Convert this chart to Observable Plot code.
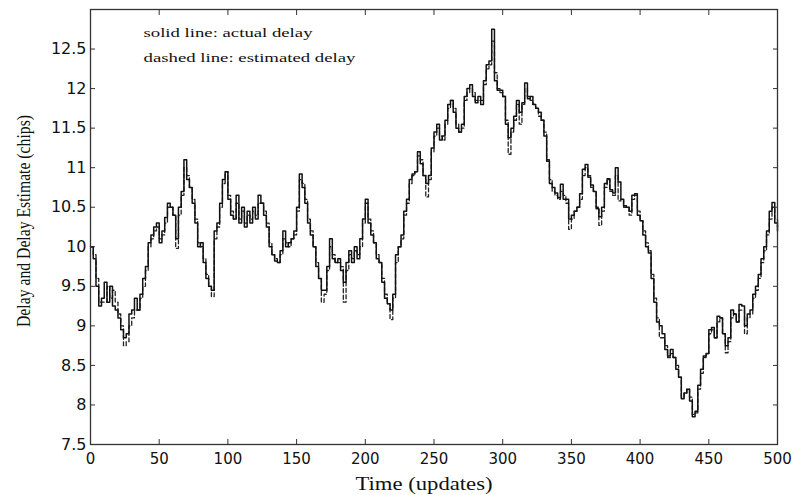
<!DOCTYPE html>
<html>
<head>
<meta charset="utf-8">
<script src="https://cdn.jsdelivr.net/npm/d3@7"></script>
<script src="https://cdn.jsdelivr.net/npm/@observablehq/plot@0.6"></script>
<style>
  html, body { margin: 0; padding: 0; background: #fff; overflow: hidden; }
  #chart svg { display: block; }
</style>
</head>
<body>
<div id="chart"></div>
<script>
// Sampling step of the series (updates between samples)
const sampleStep = 2;

// Actual delay (solid line), one value every 2 updates, t = 0..500
const actualDelay = [
  10.0, 9.85, 9.5, 9.25, 9.35, 9.55, 9.3, 9.5, 9.25, 9.2,
  9.1, 8.95, 8.85, 8.9, 9.15, 9.2, 9.35, 9.2, 9.4, 9.6,
  9.75, 10.05, 10.15, 10.25, 10.3, 10.05, 10.2, 10.37, 10.55, 10.5,
  10.4, 10.1, 10.5, 10.7, 11.1, 10.85, 10.75, 10.55, 10.3, 10.0,
  10.05, 9.8, 9.6, 9.5, 9.45, 10.2, 10.3, 10.55, 10.85, 10.95,
  10.6, 10.4, 10.35, 10.65, 10.3, 10.5, 10.25, 10.45, 10.3, 10.5,
  10.35, 10.65, 10.55, 10.4, 10.25, 10.0, 9.9, 9.82, 9.8, 9.95,
  10.2, 10.0, 10.05, 10.1, 10.2, 10.5, 10.92, 10.75, 10.55, 10.3,
  10.15, 10.0, 9.75, 9.6, 9.45, 9.45, 9.75, 10.1, 9.85, 9.8,
  9.85, 9.7, 9.55, 9.8, 9.95, 9.8, 10.0, 9.85, 10.1, 10.35,
  10.6, 10.3, 10.15, 10.05, 9.85, 9.8, 9.55, 9.35, 9.28, 9.2,
  9.4, 9.9, 10.0, 10.15, 10.45, 10.6, 10.85, 10.92, 10.95, 11.2,
  11.05, 10.9, 10.8, 10.9, 11.25, 11.45, 11.55, 11.35, 11.4, 11.6,
  11.8, 11.85, 11.7, 11.5, 11.45, 11.55, 11.9, 12.0, 12.05, 11.9,
  11.82, 11.9, 11.8, 12.1, 12.3, 12.35, 12.75, 12.1, 11.98, 11.98,
  11.9, 11.55, 11.38, 11.5, 11.65, 11.85, 11.7, 11.82, 12.07, 11.87,
  11.9, 11.8, 11.75, 11.7, 11.6, 11.4, 11.08, 10.8, 10.75, 10.68,
  10.62, 10.79, 10.6, 10.6, 10.35, 10.4, 10.45, 10.5, 10.67, 10.98,
  11.04, 10.88, 10.78, 10.7, 10.48, 10.38, 10.5, 10.8, 10.86, 10.72,
  10.68, 11.0, 10.82, 10.6, 10.52, 10.5, 10.45, 10.65, 10.67, 10.4,
  10.33, 10.15, 10.0, 9.92, 9.6, 9.3, 9.05, 9.0, 8.9, 8.7,
  8.62, 8.7, 8.6, 8.45, 8.35, 8.08, 8.15, 8.2, 8.05, 7.85,
  7.92, 8.25, 8.45, 8.62, 8.65, 8.95, 8.98, 8.85, 9.12, 9.1,
  8.9, 8.75, 8.85, 9.2, 9.15, 9.05, 9.27, 9.25, 9.0, 9.15,
  9.2, 9.4, 9.5, 9.65, 9.85, 10.0, 10.2, 10.45, 10.56, 10.3,
  10.2
];

// Estimated delay (dashed line), same sampling
const estimatedDelay = [
  10.0, 9.9, 9.6, 9.3, 9.3, 9.3, 9.5, 9.35, 9.45, 9.3,
  9.15, 9.0, 8.75, 8.8, 9.0, 9.1, 9.2, 9.2, 9.35, 9.5,
  9.7, 10.0, 10.1, 10.2, 10.25, 10.1, 10.15, 10.3, 10.5, 10.5,
  10.4, 9.98, 10.4, 10.65, 11.0, 10.9, 10.75, 10.6, 10.35, 10.05,
  10.0, 9.85, 9.65, 9.5, 9.37, 10.1, 10.25, 10.5, 10.8, 10.95,
  10.65, 10.45, 10.35, 10.55, 10.35, 10.45, 10.3, 10.4, 10.35, 10.45,
  10.4, 10.55, 10.55, 10.45, 10.3, 10.05, 9.9, 9.85, 9.8, 9.9,
  10.1, 10.05, 10.0, 10.1, 10.15, 10.45, 10.85, 10.8, 10.6, 10.35,
  10.2, 10.0, 9.8, 9.6, 9.3, 9.4, 9.7, 10.0, 9.9, 9.8,
  9.8, 9.75, 9.3, 9.7, 9.9, 9.85, 9.95, 9.9, 10.0, 10.3,
  10.55, 10.35, 10.2, 10.05, 9.9, 9.8, 9.6, 9.4, 9.28, 9.08,
  9.35, 9.8, 10.0, 10.1, 10.4, 10.55, 10.8, 10.9, 10.95, 11.15,
  11.1, 10.9, 10.63, 10.85, 11.2, 11.4, 11.5, 11.4, 11.35, 11.55,
  11.75, 11.85, 11.75, 11.55, 11.45, 11.5, 11.85, 11.95, 12.0, 11.95,
  11.85, 11.85, 11.85, 12.05, 12.25, 12.3, 12.6, 12.2, 12.0, 11.95,
  11.9, 11.6, 11.17, 11.45, 11.6, 11.8, 11.55, 11.8, 12.0, 11.9,
  11.85, 11.8, 11.75, 11.65, 11.6, 11.45, 11.1, 10.85, 10.7, 10.65,
  10.6, 10.7, 10.65, 10.55, 10.22, 10.35, 10.45, 10.5, 10.6, 10.9,
  11.0, 10.9, 10.75, 10.7, 10.5, 10.27, 10.45, 10.75, 10.85, 10.7,
  10.65, 10.9, 10.58, 10.6, 10.5, 10.5, 10.4, 10.6, 10.65, 10.45,
  10.33, 10.2, 10.05, 9.95, 9.65, 9.35, 9.1, 8.85, 8.85, 8.75,
  8.6, 8.65, 8.6, 8.5, 8.35, 8.1, 8.15, 8.2, 8.1, 7.88,
  7.9, 8.2, 8.4, 8.6, 8.65, 8.9, 8.95, 8.85, 9.05, 9.1,
  8.9, 8.66, 8.8, 9.1, 9.15, 9.05, 9.2, 9.2, 8.9, 9.1,
  9.15, 9.35, 9.45, 9.6, 9.8, 9.95, 10.15, 10.35, 10.5, 10.35,
  10.25
];

const xTicks = [0, 50, 100, 150, 200, 250, 300, 350, 400, 450, 500];
const yTicks = [7.5, 8, 8.5, 9, 9.5, 10, 10.5, 11, 11.5, 12, 12.5];
const xLabel = "Time (updates)";
const yLabel = "Delay and Delay Estimate (chips)";
const notes = ["solid line: actual delay", "dashed line: estimated delay"];

const rows = actualDelay.map((v, i) => ({t: i * sampleStep, actual: v, estimated: estimatedDelay[i]}));

const serif = "'Liberation Serif', 'Times New Roman', serif";
const sans = "'DejaVu Sans', 'Liberation Sans', sans-serif";
const blank = () => "";

const chart = Plot.plot({
  width: 795,
  height: 495,
  marginLeft: 90,
  marginRight: 18,
  marginTop: 9,
  marginBottom: 51,
  style: {background: "#fff", color: "#111", fontFamily: sans},
  x: {domain: [0, 500]},
  y: {domain: [7.5, 13]},
  marks: [
    Plot.line(rows, {x: "t", y: "estimated", curve: "step-after", stroke: "#222", strokeWidth: 1.3, strokeDasharray: "4,2.5"}),
    Plot.line(rows, {x: "t", y: "actual", curve: "step-after", stroke: "#111", strokeWidth: 1.5}),
    Plot.frame({stroke: "#333", strokeWidth: 1.3}),
    // inward ticks on all four sides
    Plot.axisX(xTicks, {anchor: "bottom", tickSize: -5, tickFormat: blank, label: null, stroke: "#333"}),
    Plot.axisX(xTicks, {anchor: "top", tickSize: -5, tickFormat: blank, label: null, stroke: "#333"}),
    Plot.axisY(yTicks, {anchor: "left", tickSize: -5, tickFormat: blank, label: null, stroke: "#333"}),
    Plot.axisY(yTicks, {anchor: "right", tickSize: -5, tickFormat: blank, label: null, stroke: "#333"}),
    // tick labels
    Plot.axisX(xTicks, {anchor: "bottom", tickSize: 0, tickPadding: 9, tickFormat: d => String(d), label: null, fontSize: 15, fontFamily: sans, fill: "#111"}),
    Plot.axisY(yTicks, {anchor: "left", tickSize: 0, tickPadding: 4, tickFormat: d => String(d), label: null, fontSize: 16, fontFamily: sans, fill: "#111"}),
    // axis titles
    Plot.text([xLabel], {frameAnchor: "bottom-left", textAnchor: "start", lineAnchor: "bottom", dx: 265, dy: 45, fontFamily: serif, fontSize: 18, fill: "#111", className: "xlab"}),
    Plot.text([yLabel], {frameAnchor: "left", textAnchor: "start", rotate: -90, dx: -67, dy: 100, fontFamily: serif, fontSize: 19, fill: "#111", className: "ylab"}),
    // legend notes
    Plot.text([notes[0]], {frameAnchor: "top-left", dx: 53, dy: 18, textAnchor: "start", fontFamily: serif, fontSize: 13.5, fill: "#111", className: "note1"}),
    Plot.text([notes[1]], {frameAnchor: "top-left", dx: 53, dy: 43, textAnchor: "start", fontFamily: serif, fontSize: 13.5, fill: "#111", className: "note2"})
  ]
});

function stretch(cls, len) {
  chart.querySelectorAll("." + cls + " text").forEach(t => {
    t.setAttribute("textLength", len);
    t.setAttribute("lengthAdjust", "spacingAndGlyphs");
  });
}
stretch("xlab", 137);
stretch("ylab", 212);
stretch("note1", 169);
stretch("note2", 212);

document.getElementById("chart").appendChild(chart);
</script>
</body>
</html>
